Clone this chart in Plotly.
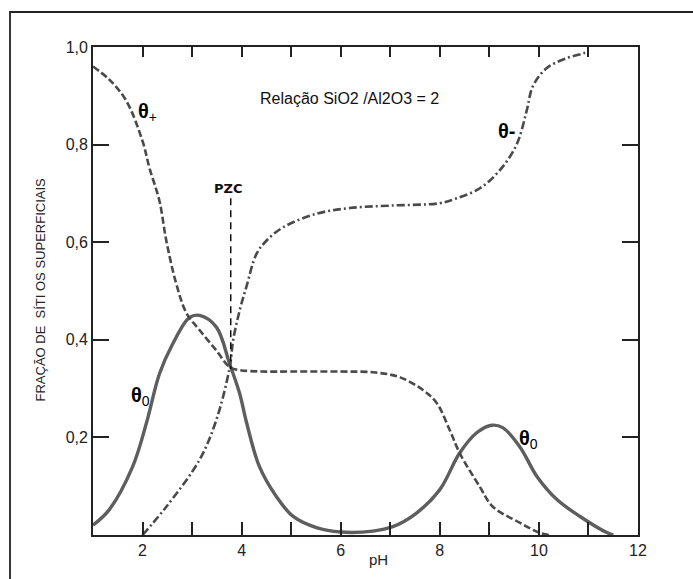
import plotly.graph_objects as go

# ---- data ----
ph_pos = [1.0, 1.33, 1.67, 2.0, 2.14, 2.34, 2.48, 2.68, 2.89, 3.15, 3.49, 3.76, 3.96, 4.4, 5.0,
          6.0, 6.7, 7.2, 7.66, 7.94, 8.2, 8.4, 8.8, 9.07, 9.62, 10.0, 10.2]
theta_pos = [0.96, 0.933, 0.89, 0.807, 0.752, 0.685, 0.603, 0.515, 0.454, 0.42, 0.378, 0.344, 0.338,
             0.335, 0.335, 0.335, 0.333, 0.323, 0.297, 0.27, 0.215, 0.168, 0.10, 0.058, 0.025, 0.005, 0.0]

ph_neg = [2.0, 2.48, 3.15, 3.49, 3.76, 3.83, 3.96, 4.1, 4.3, 4.5, 4.83, 5.5, 6.18, 7.0, 8.0,
          8.34, 8.8, 9.2, 9.55, 9.75, 9.88, 10.16, 10.56, 10.9, 11.0]
theta_neg = [0.0, 0.058, 0.154, 0.236, 0.344, 0.40, 0.46, 0.51, 0.576, 0.603, 0.63, 0.658, 0.67,
             0.675, 0.68, 0.69, 0.71, 0.746, 0.80, 0.868, 0.92, 0.957, 0.977, 0.987, 0.99]

ph_zero = [1.0, 1.33, 1.8, 2.08, 2.34, 2.6, 2.95, 3.15, 3.49, 3.76, 3.96, 4.1, 4.36, 4.7, 5.04,
           5.51, 6.0, 6.65, 7.05, 7.53, 8.0, 8.4, 8.75, 9.05, 9.27, 9.62, 9.96, 10.37, 10.83, 11.37, 11.5]
theta_zero = [0.02, 0.052, 0.14, 0.23, 0.33, 0.39, 0.446, 0.45, 0.426, 0.35, 0.29, 0.23, 0.14, 0.079,
              0.038, 0.015, 0.006, 0.008, 0.017, 0.045, 0.093, 0.168, 0.21, 0.225, 0.22, 0.18, 0.12,
              0.072, 0.038, 0.005, 0.0]

pzc_x = [3.78, 3.78]
pzc_y = [0.69, 0.34]

x_ticks = [2, 4, 6, 8, 10, 12]
x_top_ticks = [2, 3, 4, 5, 6, 7, 8, 9, 10, 11]
y_ticks = [0.2, 0.4, 0.6, 0.8, 1.0]
y_ticktext = ["0,2", "0,4", "0,6", "0,8", "1,0"]

FONT = "Liberation Sans, Arial, sans-serif"

fig = go.Figure()
fig.add_trace(go.Scatter(x=ph_zero, y=theta_zero, mode="lines",
                         line=dict(color="#5e5e5e", width=3.4, shape="spline", smoothing=1.0)))
fig.add_trace(go.Scatter(x=ph_pos, y=theta_pos, mode="lines",
                         line=dict(color="#4a4a4a", width=2.6, shape="spline", smoothing=1.0,
                                   dash="7px,3px")))
fig.add_trace(go.Scatter(x=ph_neg, y=theta_neg, mode="lines",
                         line=dict(color="#4a4a4a", width=2.6, shape="spline", smoothing=1.0,
                                   dash="8px,3px,2px,3px")))
fig.add_trace(go.Scatter(x=pzc_x, y=pzc_y, mode="lines",
                         line=dict(color="#111111", width=1.5, dash="7px,5px")))
# invisible trace for secondary (mirror tick) axes
fig.add_trace(go.Scatter(x=[1], y=[0], mode="markers", marker=dict(opacity=0),
                         xaxis="x2", yaxis="y2", hoverinfo="skip"))

ann = [
    dict(x=6.18, y=0.895, text="Relação SiO2 /Al2O3 = 2", font=dict(size=16)),
    dict(x=3.74, y=0.711, text="<b>PZC</b>", font=dict(size=13, family="DejaVu Sans", color="#111")),
    dict(x=1.86, y=0.866, text="<b>θ</b><sub>+</sub>", xanchor="left", font=dict(size=20, color="#000")),
    dict(x=9.13, y=0.828, text="<b>θ-</b>", xanchor="left", font=dict(size=20, color="#000")),
    dict(x=1.72, y=0.283, text="<b>θ</b><sub>0</sub>", xanchor="left", font=dict(size=20, color="#000")),
    dict(x=9.56, y=0.195, text="<b>θ</b><sub>0</sub>", xanchor="left", font=dict(size=20, color="#000")),
]
annotations = []
for a in ann:
    d = dict(xref="x", yref="y", showarrow=False, font=dict(family=FONT, color="#111", size=16))
    f = a.pop("font")
    d["font"].update(f)
    d.update(a)
    annotations.append(d)

annotations.append(dict(xref="paper", yref="paper", x=(30 - 93) / 545, y=(535 - 290) / 488,
                        text="FRAÇÃO DE\u00a0 SÍTI OS SUPERFICIAIS", textangle=-90, showarrow=False,
                        font=dict(family=FONT, size=13, color="#222")))
annotations.append(dict(xref="paper", yref="paper", x=(378 - 93) / 545, y=(535 - 570) / 488,
                        text="pH", showarrow=False, font=dict(family=FONT, size=15, color="#222")))

fig.update_layout(
    width=693, height=579, autosize=False,
    margin=dict(l=93, r=55, t=47, b=44),
    paper_bgcolor="white", plot_bgcolor="white",
    showlegend=False,
    font=dict(family=FONT, size=16, color="#222"),
    annotations=annotations,
    xaxis=dict(range=[1, 12], tickvals=x_ticks, ticks="inside", ticklen=13,
               tickwidth=1.5, tickcolor="#222", showline=True, linecolor="#222", linewidth=1.8,
               minor=dict(dtick=1, tick0=1, ticks="inside", ticklen=13, tickwidth=1.5, tickcolor="#222"),
               showgrid=False, zeroline=False, tickfont=dict(size=16)),
    xaxis2=dict(range=[1, 12], overlaying="x", side="top", tickvals=x_top_ticks, ticks="inside",
                ticklen=10, tickwidth=1.5, tickcolor="#222", showticklabels=False, showline=True,
                linecolor="#222", linewidth=1.8, showgrid=False, zeroline=False),
    yaxis=dict(range=[0, 1], tickvals=y_ticks, ticktext=y_ticktext, ticks="inside", ticklen=16,
               tickwidth=1.5, tickcolor="#222", showline=True, linecolor="#222", linewidth=1.8,
               showgrid=False, zeroline=False, tickfont=dict(size=16)),
    yaxis2=dict(range=[0, 1], overlaying="y", side="right", tickvals=y_ticks[:-1], ticks="inside",
                ticklen=16, tickwidth=1.5, tickcolor="#222", showticklabels=False, showline=True,
                linecolor="#222", linewidth=1.8, showgrid=False, zeroline=False),
    shapes=[dict(type="rect", xref="paper", yref="paper",
                 x0=(10 - 93) / 545, x1=(720 - 93) / 545,
                 y0=(535 - 620) / 488, y1=(535 - 12) / 488,
                 line=dict(color="#222", width=1.8), fillcolor="rgba(0,0,0,0)", layer="below")],
)

fig.write_html("out.html", config={"displayModeBar": False},
               post_script="document.body.style.margin='0';document.body.style.overflow='hidden';")
